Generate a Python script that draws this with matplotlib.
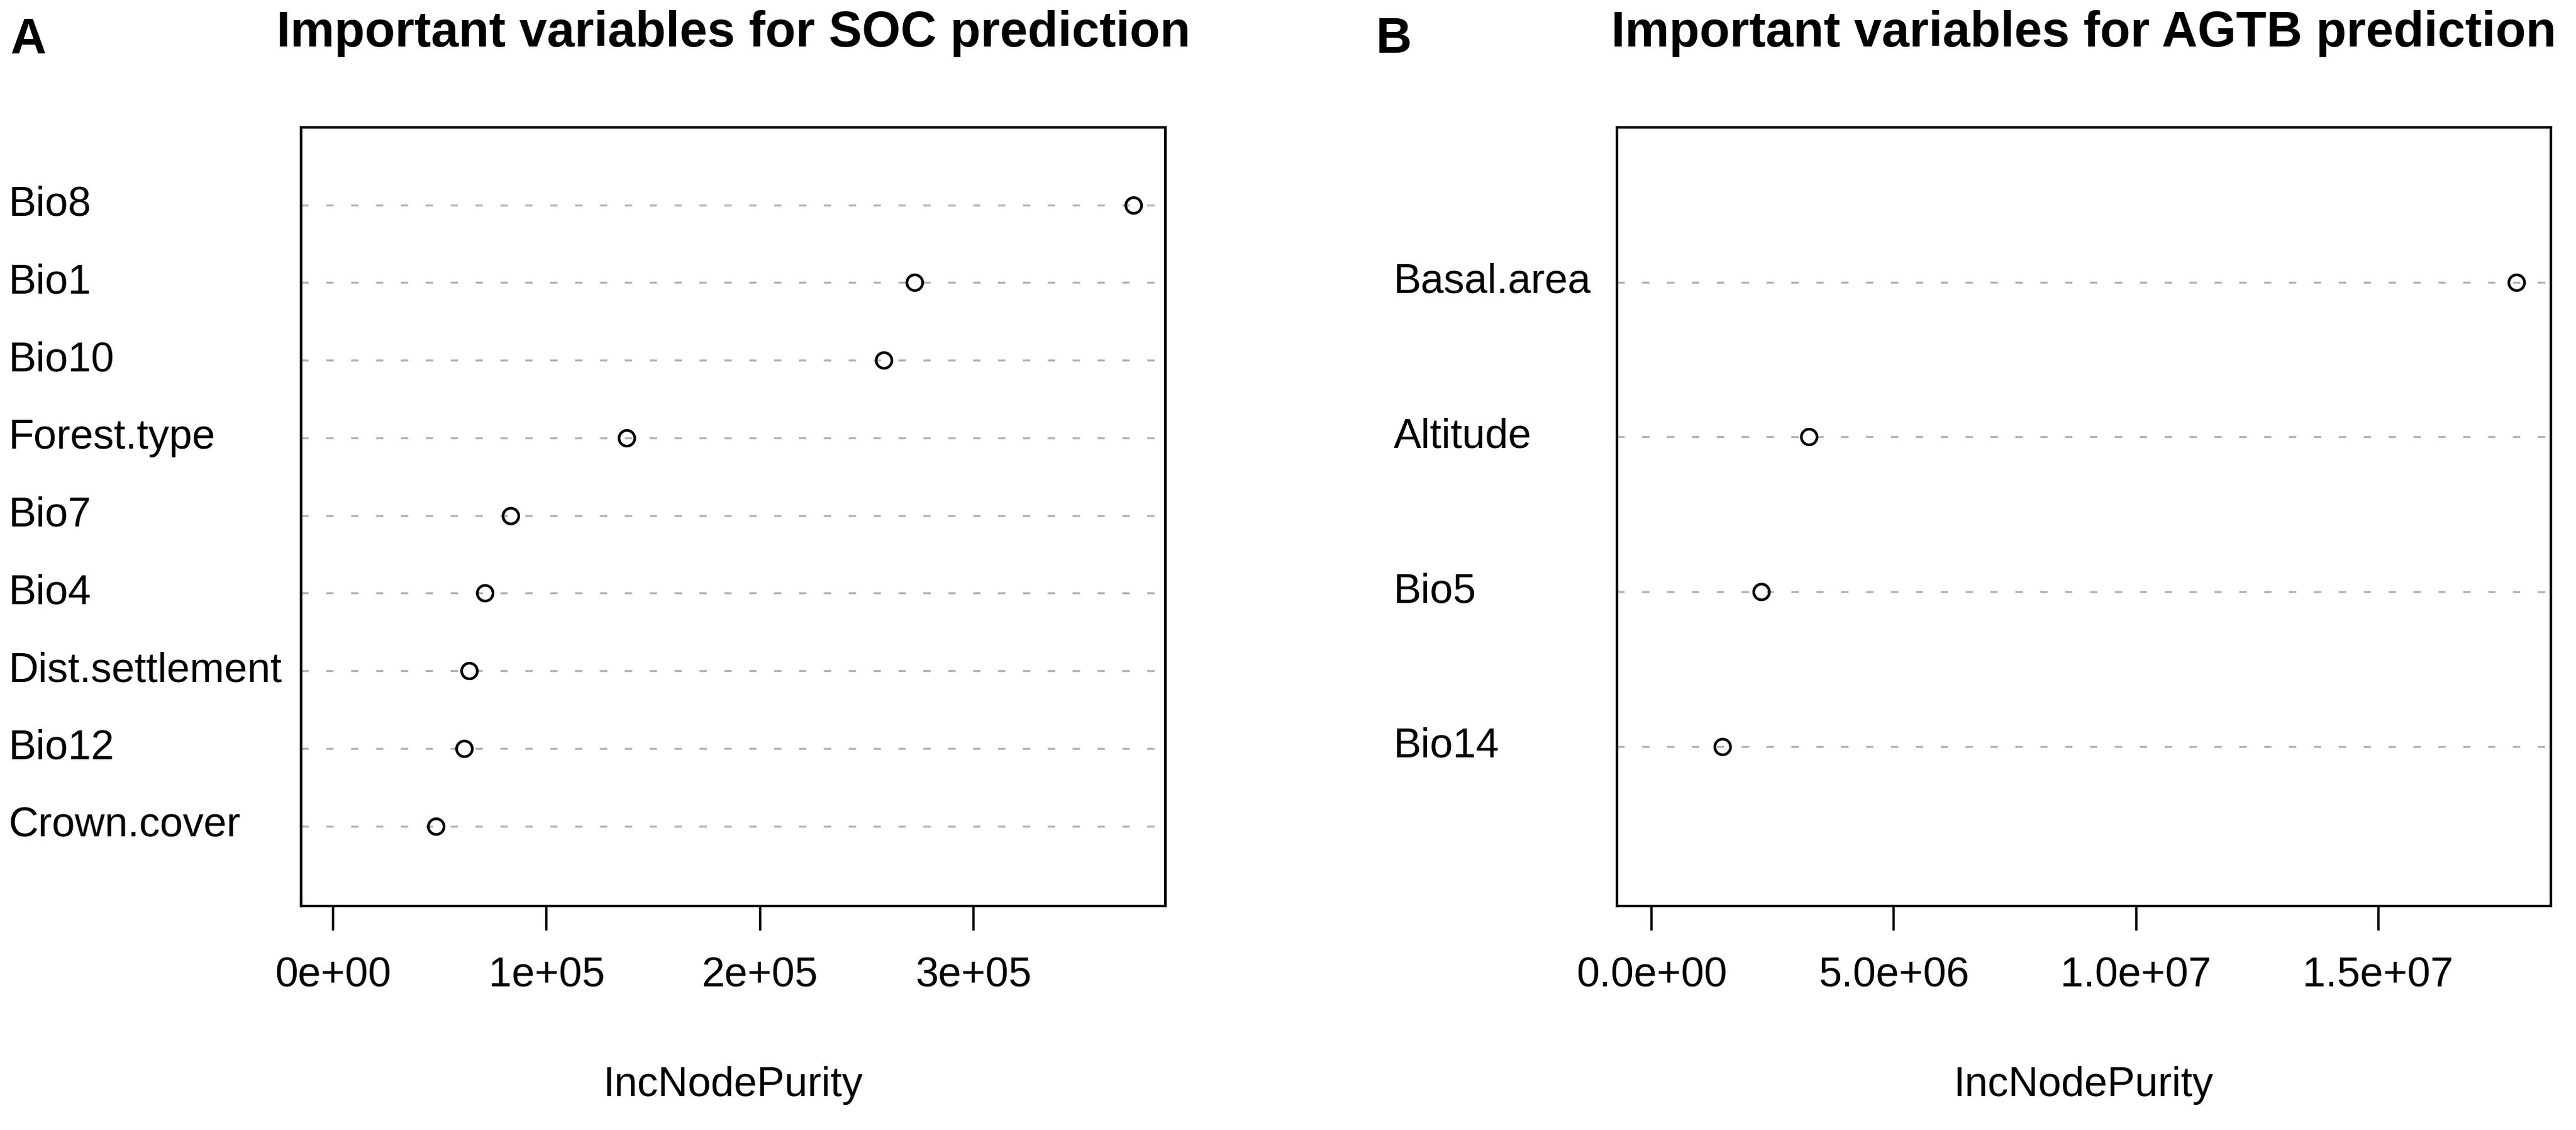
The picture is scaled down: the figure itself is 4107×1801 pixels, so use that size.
import matplotlib
matplotlib.use("Agg")
import matplotlib.pyplot as plt
import matplotlib.transforms as mtransforms
import numpy as np

plt.rcParams['font.family'] = ['Liberation Sans', 'DejaVu Sans']

# SOC panel (top to bottom as drawn)
soc_vars = ["Bio8", "Bio1", "Bio10", "Forest.type", "Bio7", "Bio4",
            "Dist.settlement", "Bio12", "Crown.cover"]
soc_imp = [375000, 272400, 258000, 137500, 83100, 71200, 63800, 61400, 48100]
soc_ticks = [0, 1e5, 2e5, 3e5]
soc_ticklabels = ["0e+00", "1e+05", "2e+05", "3e+05"]

# AGTB panel
agtb_vars = ["Basal.area", "Altitude", "Bio5", "Bio14"]
agtb_imp = [17.85e6, 3.25e6, 2.27e6, 1.46e6]
agtb_ticks = [0, 5e6, 1e7, 1.5e7]
agtb_ticklabels = ["0.0e+00", "5.0e+06", "1.0e+07", "1.5e+07"]

W, H = 4107, 1801
fig = plt.figure(figsize=(W / 100, H / 100), dpi=100)

LABEL_FS = 47.5
TITLE_FS = 57


def px_box(x0, x1, ytop, ybot):
    return [x0 / W, 1 - ybot / H, (x1 - x0) / W, (ybot - ytop) / H]


def dotchart(ax, names, vals, ticks, ticklabels, title, label_x):
    n = len(names)
    ypos = np.arange(n, 0, -1)
    for y in ypos:
        ax.axhline(y, color="#B4B4B4", lw=2.4, dashes=(3.5, 8.4), zorder=1)
    ax.plot(vals, ypos, 'o', ms=18, mfc='none', mec='black', mew=3.1, zorder=3)

    vmax = max(vals)
    ax.set_xlim(-0.04 * vmax, 1.04 * vmax)
    ax.set_ylim(-0.03, n + 1)
    ax.set_yticks([])
    ax.set_xticks(ticks)
    ax.set_xticklabels(ticklabels, fontsize=LABEL_FS)
    ax.tick_params(axis='x', length=28, width=2.6, pad=30, direction='out')
    for s in ax.spines.values():
        s.set_linewidth(3)

    # variable names, left aligned in the margin like R's dotchart
    trans = mtransforms.blended_transform_factory(fig.transFigure, ax.transData)
    for name, y in zip(names, ypos):
        ax.text(label_x / W, y, name, transform=trans, ha='left', va='center',
                fontsize=LABEL_FS)

    pos = ax.get_position()
    cx = pos.x0 + pos.width / 2
    fig.text(cx, 1 - 74 / H, title, ha='center', va='baseline',
             fontsize=TITLE_FS, fontweight='bold')
    fig.text(cx, 1 - 1747 / H, "IncNodePurity", ha='center', va='baseline',
             fontsize=LABEL_FS)


ax1 = fig.add_axes(px_box(480, 1858, 203, 1444))
dotchart(ax1, soc_vars, soc_imp, soc_ticks, soc_ticklabels,
         "Important variables for SOC prediction", 14)

ax2 = fig.add_axes(px_box(2578, 4067, 203, 1444))
dotchart(ax2, agtb_vars, agtb_imp, agtb_ticks, agtb_ticklabels,
         "Important variables for AGTB prediction", 2222)

fig.text(16 / W, 1 - 85 / H, "A", ha='left', va='baseline', fontsize=57,
         fontweight='bold')
fig.text(2194 / W, 1 - 84 / H, "B", ha='left', va='baseline', fontsize=57,
         fontweight='bold')

fig.savefig("out.png", dpi=100)
